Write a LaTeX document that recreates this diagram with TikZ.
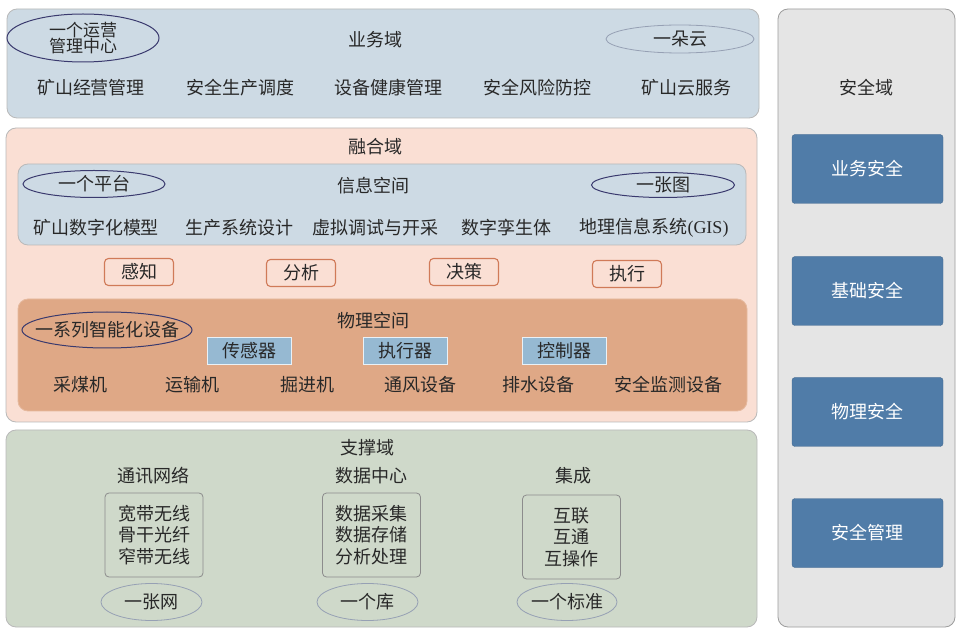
\documentclass[tikz,border=0pt]{standalone}
\usepackage{fontspec}
\setmainfont{Noto Sans CJK SC}
\newfontfamily\latinserif{Liberation Serif}
\usetikzlibrary{shapes.geometric}
\definecolor{txt}{RGB}{40,40,40}
\definecolor{bizfill}{RGB}{205,218,228}
\definecolor{fusfill}{RGB}{250,223,212}
\definecolor{infofill}{RGB}{205,218,228}
\definecolor{physfill}{RGB}{223,168,134}
\definecolor{sensfill}{RGB}{150,185,210}
\definecolor{supfill}{RGB}{207,217,202}
\definecolor{secfill}{RGB}{229,229,229}
\definecolor{secbox}{RGB}{80,124,168}
\definecolor{domline}{RGB}{185,185,185}
\definecolor{orangeline}{RGB}{208,122,88}
\definecolor{darkell}{RGB}{58,58,110}
\definecolor{lightell}{RGB}{150,160,180}
\definecolor{subline}{RGB}{140,140,140}
\tikzset{
  every node/.style={font=\fontsize{18}{21.5}\selectfont, text=txt, inner sep=0pt},
  dombox/.style={draw=domline, line width=0.8pt, rounded corners=10pt},
  actbox/.style={draw=orangeline, line width=1.1pt, rounded corners=4pt, fill=fusfill, minimum width=69pt, minimum height=27pt},
  sensbox/.style={draw=white!80!sensfill, line width=0.8pt, fill=sensfill, minimum width=84pt, minimum height=27pt},
  secbx/.style={fill=secbox, rounded corners=3pt, minimum width=151pt, minimum height=69pt, text=white, draw=secbox!85!black, line width=0.4pt},
  subbox/.style={draw=subline, line width=0.8pt, rounded corners=4pt, align=center, minimum width=98pt, minimum height=84pt},
  ellD/.style={draw=darkell, line width=1pt},
  ellL/.style={draw=lightell, line width=0.8pt},
}
\begin{document}
\begin{tikzpicture}[x=1pt,y=-1pt]
\useasboundingbox (0,0) rectangle (962,636);
\fill[white] (0,0) rectangle (962,636);

% domains
\draw[dombox, fill=bizfill] (7,9) rectangle (759,118);
\draw[dombox, fill=fusfill] (6,128) rectangle (757,422);
\draw[dombox, fill=infofill] (18,164) rectangle (746,245);
\draw[dombox, draw=physfill!80!white, fill=physfill] (18,299) rectangle (747,411);
\draw[dombox, fill=supfill] (6,430) rectangle (757,627);
\draw[dombox, draw=domline!85!black, fill=secfill] (778,9) rectangle (955,627);

% business domain
\node (bizt) at (375,40) {业务域};
\node[align=center, font=\fontsize{17}{16}\selectfont] (e1) at (83,38) {一个运营\\管理中心};
\draw[ellD] (e1.center) ellipse [x radius=76, y radius=24];
\node (e2) at (680,39) {一朵云};
\draw[ellL] (e2.center) ellipse [x radius=74, y radius=14];
\node (b1) at (91,88) {矿山经营管理};
\node (b2) at (240,88) {安全生产调度};
\node (b3) at (388,88) {设备健康管理};
\node (b4) at (537,88) {安全风险防控};
\node (b5) at (686,88) {矿山云服务};

% fusion domain
\node (fust) at (375,147) {融合域};
\node (infot) at (373,186) {信息空间};
\node (e3) at (94,184) {一个平台};
\draw[ellD] (e3.center) ellipse [x radius=71, y radius=13.5];
\node (e4) at (663,185) {一张图};
\draw[ellD] (e4.center) ellipse [x radius=71.5, y radius=12.5];
\node (i1) at (96,228) {矿山数字化模型};
\node (i2) at (239,228) {生产系统设计};
\node (i3) at (375,228) {虚拟调试与开采};
\node (i4) at (506,228) {数字孪生体};
\node (i5) at (654,228) {地理信息系统{\latinserif(GIS)}};

\node[actbox] (a1) at (139,272) {感知};
\node[actbox] (a2) at (301,273) {分析};
\node[actbox] (a3) at (464,272) {决策};
\node[actbox] (a4) at (627,274) {执行};

\node (physt) at (373,321) {物理空间};
\node (e5) at (107,330) {一系列智能化设备};
\draw[ellD] (e5.center) ellipse [x radius=85, y radius=18];
\node[sensbox] (s1) at (249,351) {传感器};
\node[sensbox] (s2) at (405,351) {执行器};
\node[sensbox] (s3) at (564,351) {控制器};
\node (p1) at (80,385) {采煤机};
\node (p2) at (192,385) {运输机};
\node (p3) at (307,385) {掘进机};
\node (p4) at (420,385) {通风设备};
\node (p5) at (538,385) {排水设备};
\node (p6) at (668,385) {安全监测设备};

% support domain
\node (supt) at (367,448) {支撑域};
\node (c1) at (153,476) {通讯网络};
\node (c2) at (371,476) {数据中心};
\node (c3) at (573,476) {集成};
\node[subbox] (x1) at (154,535) {宽带无线\\骨干光纤\\窄带无线};
\node[subbox] (x2) at (371.5,535) {数据采集\\数据存储\\分析处理};
\node[subbox] (x3) at (571.5,537) {互联\\互通\\互操作};
\node (e6) at (151.5,602) {一张网};
\draw[ellL] (e6.center) ellipse [x radius=50.5, y radius=18.5];
\node (e7) at (367.5,602) {一个库};
\draw[ellL] (e7.center) ellipse [x radius=50.5, y radius=18.5];
\node (e8) at (567,602) {一个标准};
\draw[ellL] (e8.center) ellipse [x radius=50, y radius=18.5];

% security domain
\node (sect) at (866,88) {安全域};
\node[secbx] (k1) at (867.5,169) {业务安全};
\node[secbx] (k2) at (867.5,291) {基础安全};
\node[secbx] (k3) at (867.5,412) {物理安全};
\node[secbx] (k4) at (867.5,533) {安全管理};
\end{tikzpicture}
\end{document}
